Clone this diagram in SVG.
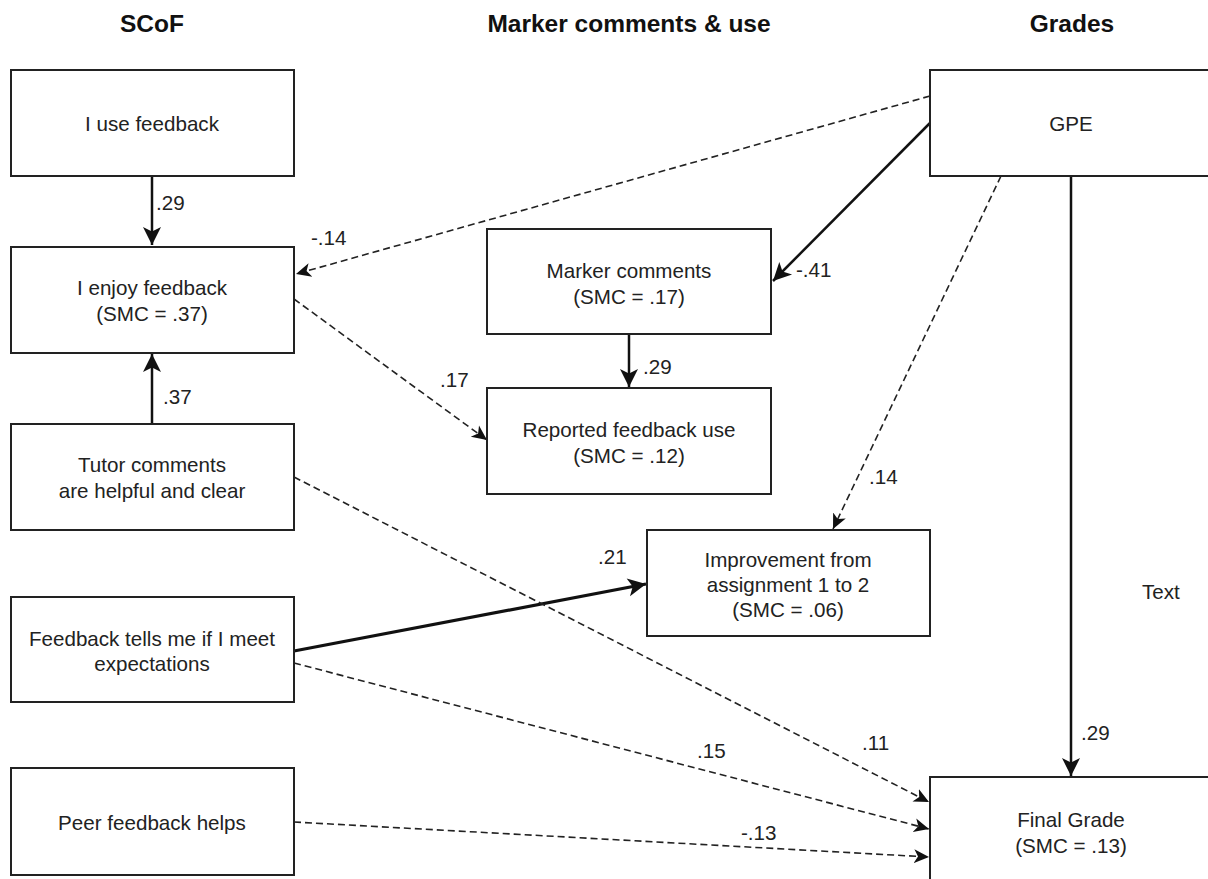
<svg xmlns="http://www.w3.org/2000/svg" width="1208" height="879" viewBox="0 0 1208 879">
<style>
text{font-family:"Liberation Sans",Arial,sans-serif;fill:#222}
.h{font-size:24.5px;font-weight:bold;text-anchor:middle;fill:#111}
.t{font-size:20.6px;text-anchor:middle}
.l{font-size:20.6px}
.box{fill:#fff;stroke:#222;stroke-width:2}
.s{stroke:#111;stroke-width:2.5;fill:none}
.s3{stroke:#111;stroke-width:3.2;fill:none}
.d{stroke:#222;stroke-width:1.6;fill:none;stroke-dasharray:7 4}
</style>
<defs>
<marker id="big" markerUnits="userSpaceOnUse" markerWidth="24" markerHeight="24" viewBox="0 0 24 24" refX="19" refY="12" orient="auto">
<path d="M1,3 L19,12 L1,21 L5.5,12 Z" fill="#111"/>
</marker>
<marker id="small" markerUnits="userSpaceOnUse" markerWidth="18" markerHeight="18" viewBox="0 0 18 18" refX="15" refY="9" orient="auto">
<path d="M0,2 L15,9 L0,16 L4,9 Z" fill="#111"/>
</marker>
</defs>
<rect width="1208" height="879" fill="#fff"/>
<g id="headings">
<text class="h" x="152" y="32">SCoF</text>
<text class="h" x="629" y="32">Marker comments &amp; use</text>
<text class="h" x="1072" y="32">Grades</text>
</g>
<g id="connectors">
<line class="s" x1="152" y1="176" x2="152" y2="245" marker-end="url(#big)"/>
<line class="s" x1="152" y1="423" x2="152" y2="354" marker-end="url(#big)"/>
<line class="d" x1="930" y1="96" x2="296" y2="274" marker-end="url(#small)"/>
<line class="s" x1="930" y1="123" x2="773" y2="281" marker-end="url(#big)"/>
<line class="s" x1="629" y1="334" x2="629" y2="387" marker-end="url(#big)"/>
<line class="d" x1="294" y1="299" x2="487" y2="440" marker-end="url(#small)"/>
<line class="d" x1="1001" y1="176" x2="833" y2="529" marker-end="url(#small)"/>
<line class="s3" x1="294" y1="651" x2="646" y2="584" marker-end="url(#big)"/>
<line class="d" x1="294" y1="477" x2="929" y2="802" marker-end="url(#small)"/>
<line class="d" x1="294" y1="663" x2="929" y2="829" marker-end="url(#small)"/>
<line class="d" x1="294" y1="822" x2="929" y2="857" marker-end="url(#small)"/>
<line class="s" x1="1071" y1="176" x2="1071" y2="776" marker-end="url(#big)"/>
<text class="l" x="156" y="210">.29</text>
<text class="l" x="163" y="404">.37</text>
<text class="l" x="311" y="245">-.14</text>
<text class="l" x="796" y="277">-.41</text>
<text class="l" x="643" y="374">.29</text>
<text class="l" x="440" y="387">.17</text>
<text class="l" x="869" y="484">.14</text>
<text class="l" x="598" y="564">.21</text>
<text class="l" x="862" y="750">.11</text>
<text class="l" x="697" y="758">.15</text>
<text class="l" x="741" y="840">-.13</text>
<text class="l" x="1081" y="740">.29</text>
<text class="l" x="1142" y="599">Text</text>
</g>
<g id="n-use">
<rect class="box" x="11" y="70" width="283" height="106"/>
<text class="t" x="152" y="131">I use feedback</text>
</g>
<g id="n-enjoy">
<rect class="box" x="11" y="247" width="283" height="106"/>
<text class="t" x="152" y="295">I enjoy feedback</text>
<text class="t" x="152" y="321">(SMC = .37)</text>
</g>
<g id="n-tutor">
<rect class="box" x="11" y="424" width="283" height="106"/>
<text class="t" x="152" y="472">Tutor comments</text>
<text class="t" x="152" y="498">are helpful and clear</text>
</g>
<g id="n-tells">
<rect class="box" x="11" y="597" width="283" height="105"/>
<text class="t" x="152" y="646">Feedback tells me if I meet</text>
<text class="t" x="152" y="671">expectations</text>
</g>
<g id="n-peer">
<rect class="box" x="11" y="768" width="283" height="107"/>
<text class="t" x="152" y="830">Peer feedback helps</text>
</g>
<g id="n-marker">
<rect class="box" x="487" y="229" width="284" height="105"/>
<text class="t" x="629" y="278">Marker comments</text>
<text class="t" x="629" y="304">(SMC = .17)</text>
</g>
<g id="n-reported">
<rect class="box" x="487" y="388" width="284" height="106"/>
<text class="t" x="629" y="437">Reported feedback use</text>
<text class="t" x="629" y="463">(SMC = .12)</text>
</g>
<g id="n-improve">
<rect class="box" x="647" y="530" width="283" height="106"/>
<text class="t" x="788" y="567">Improvement from</text>
<text class="t" x="788" y="592">assignment 1 to 2</text>
<text class="t" x="788" y="617">(SMC = .06)</text>
</g>
<g id="n-gpe">
<rect class="box" x="930" y="70" width="290" height="106"/>
<text class="t" x="1071" y="131">GPE</text>
</g>
<g id="n-final">
<rect class="box" x="930" y="777" width="290" height="120"/>
<text class="t" x="1071" y="827">Final Grade</text>
<text class="t" x="1071" y="853">(SMC = .13)</text>
</g>
</svg>
